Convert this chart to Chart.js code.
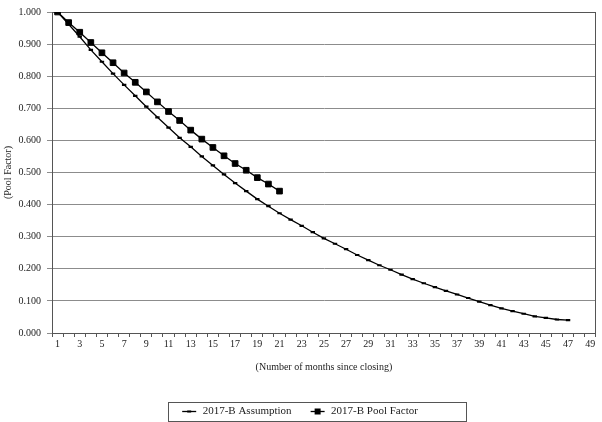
<!DOCTYPE html>
<html>
<head>
<meta charset="utf-8">
<script src="https://cdn.jsdelivr.net/npm/chart.js@4.4.0/dist/chart.umd.min.js"></script>
<style>
html, body { margin: 0; padding: 0; background: #fff; }
#wrap { width: 602px; height: 422px; }
</style>
</head>
<body>
<div id="wrap"><canvas id="grafico" width="602" height="422"></canvas></div>
<script>
// meses desde el cierre (categorias del eje X)
const meses = ["1","2","3","4","5","6","7","8","9","10","11","12","13","14","15","16","17",
    "18","19","20","21","22","23","24","25","26","27","28","29","30","31","32","33",
    "34","35","36","37","38","39","40","41","42","43","44","45","46","47","48","49"];

// 2017-B Assumption (meses 1..47)
const asuncion = [1.000, 0.962, 0.923, 0.882, 0.845, 0.808, 0.773, 0.739, 0.705, 0.672,
    0.640, 0.608, 0.580, 0.550, 0.522, 0.494, 0.467, 0.442, 0.417, 0.395,
    0.373, 0.353, 0.334, 0.314, 0.295, 0.278, 0.261, 0.243, 0.227, 0.211,
    0.197, 0.182, 0.168, 0.155, 0.143, 0.131, 0.120, 0.109, 0.098, 0.087,
    0.077, 0.068, 0.060, 0.052, 0.047, 0.042, 0.040];

// 2017-B Pool Factor (meses 1..21)
const poolFactor = [1.000, 0.967, 0.937, 0.905, 0.873, 0.842, 0.810, 0.781, 0.751, 0.720,
    0.690, 0.662, 0.632, 0.604, 0.578, 0.552, 0.528, 0.507, 0.484, 0.464, 0.442];

const nombres = ["2017-B Assumption", "2017-B Pool Factor"];

const fuente = "'Liberation Serif', 'Times New Roman', serif";
const colorTexto = "#222";

// muestra de leyenda: linea + marcador
function muestraLeyenda(tipo) {
    const c = document.createElement("canvas");
    c.width = 16;
    c.height = 9;
    const g = c.getContext("2d");
    g.strokeStyle = "#000";
    g.lineWidth = 1.3;
    g.beginPath();
    g.moveTo(1, 4.5);
    g.lineTo(15, 4.5);
    g.stroke();
    g.fillStyle = "#000";
    if (tipo === "rect") {
        g.fillRect(5, 1.5, 6, 6);
    } else {
        g.fillRect(6, 3.5, 4, 2);
    }
    return c;
}

const marcoPlot = {
    id: "marcoPlot",
    beforeDatasetsDraw(chart) {
        const a = chart.chartArea;
        const ctx = chart.ctx;
        ctx.save();
        ctx.strokeStyle = "#555";
        ctx.lineWidth = 1;
        ctx.strokeRect(Math.round(a.left) + 0.5, Math.round(a.top) + 0.5,
            Math.round(a.right - a.left) - 1, Math.round(a.bottom - a.top));
        ctx.restore();
    },
    afterDraw(chart) {
        const hb = chart.legend && chart.legend.legendHitBoxes;
        if (!hb || !hb.length) return;
        const ctx = chart.ctx;
        const ult = hb[hb.length - 1];
        const l = Math.round(hb[0].left - 13) + 0.5;
        const r = Math.round(ult.left + ult.width + 48) + 0.5;
        const t = Math.round(hb[0].top - 4) + 0.5;
        const b = Math.round(hb[0].top + hb[0].height + 4) + 0.5;
        ctx.save();
        ctx.strokeStyle = "#555";
        ctx.lineWidth = 1;
        ctx.strokeRect(l, t, r - l, b - t);
        ctx.restore();
    }
};

const ctx = document.getElementById("grafico");

new Chart(ctx, {
    type: "line",
    data: {
        labels: meses,
        datasets: [{
            label: nombres[0],
            data: asuncion,
            borderColor: "#000",
            borderWidth: 1.3,
            tension: 0,
            fill: false,
            pointStyle: "line",
            pointRadius: 2.2,
            pointBorderWidth: 2.2,
            pointBorderColor: "#000",
            pointBackgroundColor: "#000"
        }, {
            label: nombres[1],
            data: poolFactor,
            borderColor: "#000",
            borderWidth: 1.3,
            tension: 0,
            fill: false,
            pointStyle: "rect",
            pointRadius: 4,
            pointBorderWidth: 1,
            pointBorderColor: "#000",
            pointBackgroundColor: "#000"
        }]
    },
    options: {
        responsive: false,
        devicePixelRatio: 1,
        animation: false,
        layout: {
            padding: { top: 5, right: 3, left: 0, bottom: 0 }
        },
        plugins: {
            tooltip: { enabled: false },
            legend: {
                display: true,
                position: "bottom",
                maxHeight: 34,
                labels: {
                    usePointStyle: true,
                    pointStyleWidth: 16,
                    padding: 18,
                    color: colorTexto,
                    font: { family: fuente, size: 11 },
                    generateLabels(chart) {
                        return chart.data.datasets.map((d, i) => ({
                            text: d.label,
                            pointStyle: muestraLeyenda(i === 1 ? "rect" : "dash"),
                            fillStyle: "rgba(0,0,0,0)",
                            strokeStyle: "rgba(0,0,0,0)",
                            lineWidth: 0,
                            fontColor: colorTexto,
                            datasetIndex: i
                        }));
                    }
                }
            }
        },
        scales: {
            x: {
                type: "category",
                offset: true,
                grid: {
                    offset: true,
                    drawOnChartArea: false,
                    drawTicks: true,
                    tickLength: 4,
                    color: "#555"
                },
                border: { color: "#555", width: 1 },
                ticks: {
                    autoSkip: false,
                    maxRotation: 0,
                    padding: 1,
                    color: colorTexto,
                    font: { family: fuente, size: 10 },
                    callback: (v, i) => (i % 2 === 0 ? meses[i] : "")
                },
                title: {
                    display: true,
                    text: "(Number of months since closing)",
                    color: colorTexto,
                    font: { family: fuente, size: 10 },
                    padding: { top: 4, bottom: 15 }
                },
                afterFit: s => { s.height = 55; }
            },
            y: {
                min: 0,
                max: 1,
                grid: {
                    color: "#8c8c8c",
                    lineWidth: 1,
                    tickLength: 5
                },
                border: { color: "#555", width: 1 },
                ticks: {
                    stepSize: 0.1,
                    padding: 6,
                    color: colorTexto,
                    font: { family: fuente, size: 10 },
                    callback: v => v.toFixed(3)
                },
                title: {
                    display: true,
                    text: "(Pool Factor)",
                    color: colorTexto,
                    font: { family: fuente, size: 10 },
                    padding: { top: 2, bottom: 0 }
                },
                afterFit: s => { s.width = 52; }
            }
        }
    },
    plugins: [marcoPlot]
});
</script>
</body>
</html>
